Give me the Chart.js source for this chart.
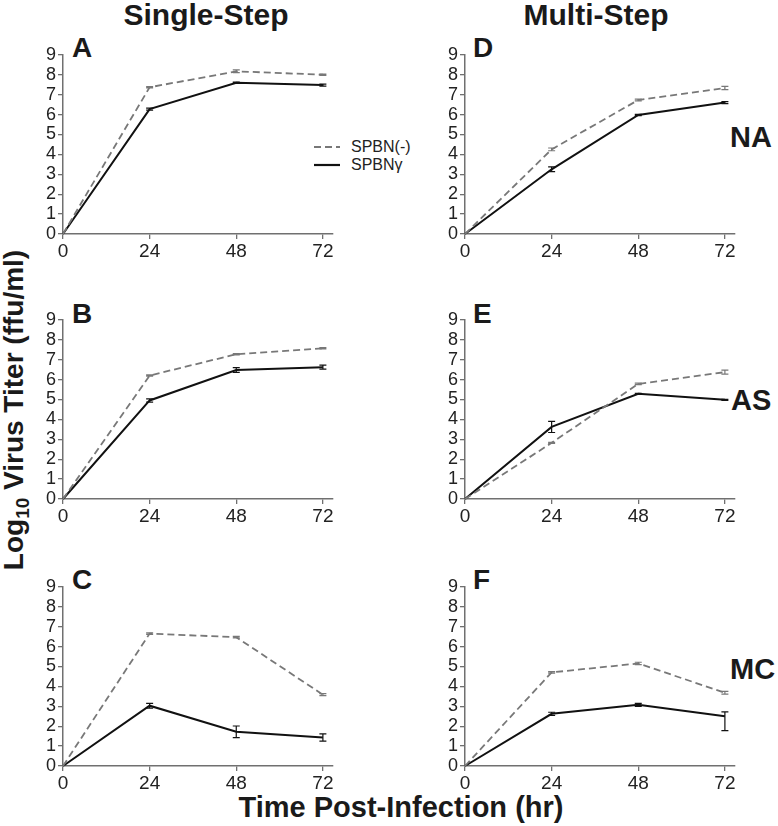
<!DOCTYPE html>
<html>
<head>
<meta charset="utf-8">
<script src="https://cdn.jsdelivr.net/npm/chart.js@4.4.1/dist/chart.umd.min.js"></script>
<style>
  body { margin: 0; background: #fff; width: 778px; height: 826px; position: relative; overflow: hidden;
         font-family: "Liberation Sans", Arial, sans-serif; color: #1a1a1a; }
  .panel { position: absolute; }
  .txt { position: absolute; white-space: nowrap; font-weight: bold; line-height: 1; }
  .colTitle { font-size: 30px; top: 0px; transform: translateX(-50%); }
  .letter { font-size: 28px; }
  .tag { font-size: 29px; }
  .legend { position: absolute; left: 314px; top: 138px; font-size: 16px; color: #222; }
  .legend div { height: 18px; display: flex; align-items: center; }
  .legend svg { margin-right: 11px; }
</style>
</head>
<body>

<div class="txt colTitle" style="left:206px">Single-Step</div>
<div class="txt colTitle" style="left:596px">Multi-Step</div>

<div class="txt letter" style="left:72px; top:34px">A</div>
<div class="txt letter" style="left:72px; top:300px">B</div>
<div class="txt letter" style="left:72px; top:566px">C</div>
<div class="txt letter" style="left:473px; top:34px">D</div>
<div class="txt letter" style="left:473px; top:300px">E</div>
<div class="txt letter" style="left:473px; top:566px">F</div>

<div class="txt tag" style="left:730px; top:123px">NA</div>
<div class="txt tag" style="left:731px; top:386px">AS</div>
<div class="txt tag" style="left:730px; top:655px">MC</div>

<div class="legend">
  <div><svg width="26" height="4"><line x1="0" y1="2" x2="26" y2="2" stroke="#777" stroke-width="2" stroke-dasharray="7,4"/></svg>SPBN(-)</div>
  <div><svg width="26" height="4"><line x1="0" y1="2" x2="26" y2="2" stroke="#111" stroke-width="2.2"/></svg>SPBN&gamma;</div>
</div>

<div class="txt" style="left:16px; top:410px; font-size:28px; transform: translate(-50%,-50%) rotate(-90deg);">Log<sub style="font-size:19px">10</sub> Virus Titer (ffu/ml)</div>
<div class="txt" style="left:401px; top:793px; font-size:29px; transform: translateX(-50%);">Time Post-Infection (hr)</div>

<canvas id="cA" class="panel"></canvas>
<canvas id="cB" class="panel"></canvas>
<canvas id="cC" class="panel"></canvas>
<canvas id="cD" class="panel"></canvas>
<canvas id="cE" class="panel"></canvas>
<canvas id="cF" class="panel"></canvas>

<script>
// Tiempos de muestreo (horas post-infeccion)
const hours = [0, 24, 48, 72];
const yTicks = [0, 1, 2, 3, 4, 5, 6, 7, 8, 9];

// Single-Step: NA (A), AS (B), MC (C)
const aNeg = [0, 7.37, 8.17, 8.0];
const aGam = [0, 6.27, 7.6, 7.48];
const aNegErr = [0, 0.03, 0.07, 0.03];
const aGamErr = [0, 0.05, 0.03, 0.05];

const bNeg = [0, 6.2, 7.27, 7.57];
const bGam = [0, 4.95, 6.48, 6.62];
const bNegErr = [0, 0.03, 0.03, 0.03];
const bGamErr = [0, 0.08, 0.12, 0.1];

const cNeg = [0, 6.65, 6.47, 3.58];
const cGam = [0, 3.03, 1.72, 1.43];
const cNegErr = [0, 0.04, 0.04, 0.05];
const cGamErr = [0, 0.12, 0.29, 0.18];

// Multi-Step: NA (D), AS (E), MC (F)
const dNeg = [0, 4.25, 6.73, 7.33];
const dGam = [0, 3.25, 5.98, 6.6];
const dNegErr = [0, 0.07, 0.04, 0.08];
const dGamErr = [0, 0.12, 0.03, 0.05];

const eNeg = [0, 2.82, 5.78, 6.37];
const eGam = [0, 3.62, 5.28, 4.98];
const eNegErr = [0, 0.03, 0.04, 0.1];
const eGamErr = [0, 0.28, 0.03, 0.03];

const fNeg = [0, 4.7, 5.15, 3.68];
const fGam = [0, 2.62, 3.07, 2.5];
const fNegErr = [0, 0.04, 0.06, 0.07];
const fGamErr = [0, 0.08, 0.08, [0.72, 0.22]];

const AXIS = '#707070';

// barras de error dibujadas con las escalas del grafico
const errorBars = {
  id: 'errorBars',
  afterDatasetsDraw(chart) {
    const ctx = chart.ctx;
    const xs = chart.scales.x, ys = chart.scales.y;
    chart.data.datasets.forEach(ds => {
      if (!ds.errors) return;
      ctx.save();
      ctx.strokeStyle = ds.borderColor;
      ctx.lineWidth = 1.2;
      ds.data.forEach((p, i) => {
        const e = ds.errors[i];
        const lo = Array.isArray(e) ? e[0] : e;
        const hi = Array.isArray(e) ? e[1] : e;
        if (!lo && !hi) return;
        const px = xs.getPixelForValue(p.x);
        const y1 = ys.getPixelForValue(p.y + hi);
        const y2 = ys.getPixelForValue(p.y - lo);
        ctx.beginPath();
        ctx.moveTo(px, y1); ctx.lineTo(px, y2);
        ctx.moveTo(px - 3.5, y1); ctx.lineTo(px + 3.5, y1);
        ctx.moveTo(px - 3.5, y2); ctx.lineTo(px + 3.5, y2);
        ctx.stroke();
      });
      ctx.restore();
    });
  }
};

function makePanel(id, left, top, neg, gam, negErr, gamErr) {
  const el = document.getElementById(id);
  const plotW = 270, plotH = 180;
  const YW = 40, XH = 33, PT = 12, PR = 14, PB = 2;
  const w = plotW + YW + PR, h = plotH + PT + XH + PB;
  el.style.left = (left - YW) + 'px';
  el.style.top = (top - PT) + 'px';
  el.style.width = w + 'px';
  el.style.height = h + 'px';
  el.width = w; el.height = h;

  new Chart(el.getContext('2d'), {
    type: 'line',
    data: {
      datasets: [
        {
          label: 'SPBN(-)',
          data: neg.map((v, i) => ({ x: hours[i], y: v })),
          errors: negErr,
          borderColor: '#787878',
          borderWidth: 1.8,
          borderDash: [7, 4],
          pointRadius: 0,
          fill: false,
          tension: 0
        },
        {
          label: 'SPBNγ',
          data: gam.map((v, i) => ({ x: hours[i], y: v })),
          errors: gamErr,
          borderColor: '#111111',
          borderWidth: 2,
          pointRadius: 0,
          fill: false,
          tension: 0
        }
      ]
    },
    options: {
      responsive: false,
      animation: false,
      clip: false,
      layout: { padding: { top: PT, right: PR, bottom: PB, left: 0 } },
      plugins: { legend: { display: false }, tooltip: { enabled: false } },
      scales: {
        x: {
          type: 'linear',
          min: 0,
          max: 74.8,
          afterBuildTicks: s => { s.ticks = hours.map(v => ({ value: v })); },
          afterFit: s => { s.height = XH; },
          grid: { drawOnChartArea: false, drawTicks: true, tickLength: 5, color: AXIS, lineWidth: 1.3 },
          border: { color: AXIS, width: 1.5 },
          ticks: { color: '#222', padding: 1, maxRotation: 0, autoSkip: false, font: { family: 'Liberation Sans', size: 19 } }
        },
        y: {
          min: 0,
          max: 9,
          afterBuildTicks: s => { s.ticks = yTicks.map(v => ({ value: v })); },
          afterFit: s => { s.width = YW; },
          grid: { drawOnChartArea: false, drawTicks: true, tickLength: 5, color: AXIS, lineWidth: 1.3 },
          border: { color: AXIS, width: 1.5 },
          ticks: { color: '#222', padding: 2, autoSkip: false, font: { family: 'Liberation Sans', size: 18 } }
        }
      }
    },
    plugins: [errorBars]
  });
}

makePanel('cA', 63, 54, aNeg, aGam, aNegErr, aGamErr);
makePanel('cB', 63, 319, bNeg, bGam, bNegErr, bGamErr);
makePanel('cC', 63, 586, cNeg, cGam, cNegErr, cGamErr);
makePanel('cD', 465, 54, dNeg, dGam, dNegErr, dGamErr);
makePanel('cE', 465, 319, eNeg, eGam, eNegErr, eGamErr);
makePanel('cF', 465, 586, fNeg, fGam, fNegErr, fGamErr);
</script>
</body>
</html>
